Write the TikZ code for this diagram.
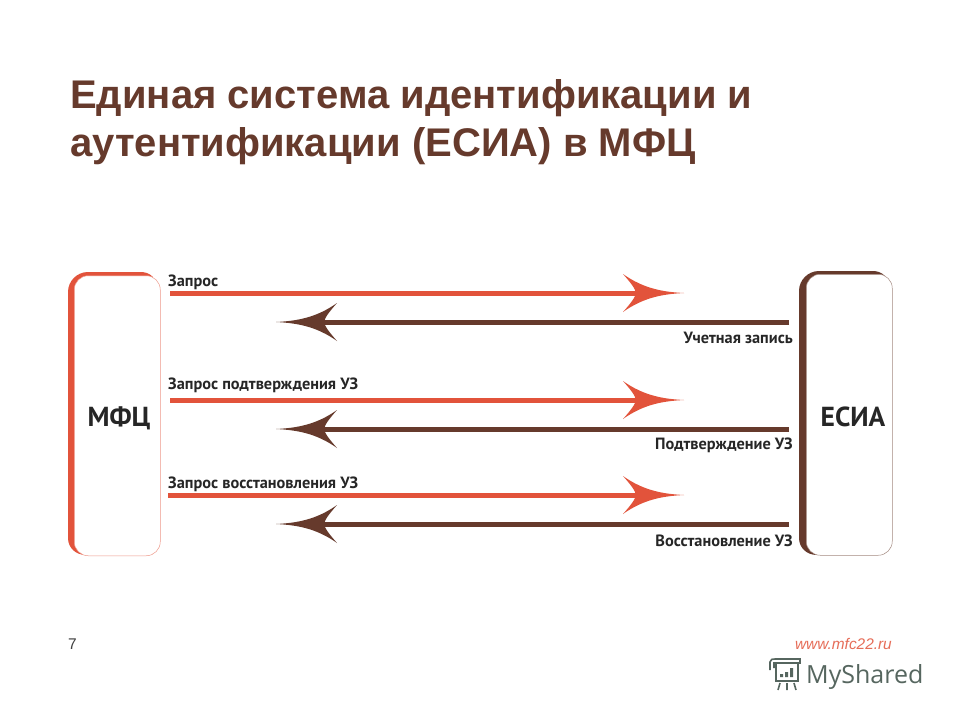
\documentclass[tikz,border=0pt]{standalone}
\usepackage{fontspec}
\setmainfont{Liberation Sans}
\newfontfamily\labelfont{PT Sans}
\newfontfamily\logofont{Open Sans}
\definecolor{mfcred}{HTML}{E2533B}
\definecolor{esiabrown}{HTML}{663A2C}
\definecolor{logogray}{HTML}{56665F}
\definecolor{labelblack}{HTML}{262626}
\pgfarrowsdeclare{sweep}{sweep}
{\pgfarrowsleftextend{-16pt}\pgfarrowsrightextend{44pt}}
{
  \pgfsetlinewidth{0pt}
  \pgfpathmoveto{\pgfpoint{44pt}{0pt}}
  \pgfpathcurveto{\pgfpoint{24pt}{1pt}}{\pgfpoint{4pt}{4pt}}{\pgfpoint{-17pt}{19pt}}
  \pgfpathcurveto{\pgfpoint{-10pt}{11pt}}{\pgfpoint{-5pt}{5pt}}{\pgfpoint{-4pt}{0pt}}
  \pgfpathcurveto{\pgfpoint{-5pt}{-5pt}}{\pgfpoint{-10pt}{-11pt}}{\pgfpoint{-17pt}{-19pt}}
  \pgfpathcurveto{\pgfpoint{4pt}{-4pt}}{\pgfpoint{24pt}{-1pt}}{\pgfpoint{44pt}{0pt}}
  \pgfpathclose
  \pgfusepathqfill
}
\begin{document}
\begin{tikzpicture}[x=1pt,y=-1pt]
       \tikzstyle{titlenode}=[anchor=base west, inner sep=0pt, text=esiabrown, font=\fontsize{40}{40}\selectfont\bfseries]
       \tikzstyle{boxnode}=[draw=#1!60, line width=0.5pt, fill=white, rounded corners=14pt, inner sep=0pt, anchor=north west]
       \tikzstyle{boxname}=[inner sep=0pt, anchor=base, text=labelblack, font=\labelfont\fontsize{27.5}{28}\selectfont\bfseries]
       \tikzstyle{msgleft}=[inner sep=0pt, anchor=base west, text=labelblack, font=\labelfont\fontsize{16.3}{17}\selectfont\bfseries]
       \tikzstyle{msgright}=[inner sep=0pt, anchor=base east, text=labelblack, font=\labelfont\fontsize{16.3}{17}\selectfont\bfseries]
       \tikzstyle{footnode}=[inner sep=0pt, font=\fontsize{15.5}{16}\selectfont]
       \tikzstyle{reqline}=[color=mfcred, line width=5pt, -sweep]
       \tikzstyle{ansline}=[color=esiabrown, line width=5pt, -sweep]
       \tikzstyle{logoline}=[draw=logogray, line width=1.6pt]
       \useasboundingbox (0,0) rectangle (960,720);
       \fill[white] (0,0) rectangle (960,720);
       % title
       \node[titlenode] (titleone) at (70,108) {Единая система идентификации и};
       \node[titlenode] (titletwo) at (70,156.5) {аутентификации (ЕСИА) в МФЦ};
       % left box
       \fill[mfcred] (153,277) .. controls (149,273) and (145,272) .. (140,272) -- (88,272)
        .. controls (77,272) and (68,281) .. (68,292) -- (68,538)
        .. controls (68,548) and (76,555) .. (86,555) -- cycle;
       \node[boxnode=mfcred, minimum width=86pt, minimum height=280pt] (mfc) at (74,275.5) {};
       \node[boxname] (mfcname) at (119,426) {МФЦ};
       % right box
       \fill[esiabrown] (885,276) .. controls (881,272) and (877,271) .. (872,271) -- (819,271)
        .. controls (808,271) and (799,280) .. (799,291) -- (799,538)
        .. controls (799,548) and (807,555) .. (817,555) -- cycle;
       \node[boxnode=esiabrown, minimum width=86pt, minimum height=281pt] (esia) at (806,274) {};
       \node[boxname] (esianame) at (853,426) {ЕСИА};
       % arrow ends
       \coordinate (reqastart) at (170,293);
       \coordinate (reqaend) at (684,293);
       \coordinate (ansastart) at (789,322);
       \coordinate (ansaend) at (276,322);
       \coordinate (reqbstart) at (170,400);
       \coordinate (reqbend) at (684,400);
       \coordinate (ansbstart) at (789,429);
       \coordinate (ansbend) at (276,429);
       \coordinate (reqcstart) at (168,495);
       \coordinate (reqcend) at (684,495);
       \coordinate (anscstart) at (789,524);
       \coordinate (anscend) at (276,524);
       \draw[reqline] (reqastart) -- (reqaend);
       \draw[ansline] (ansastart) -- (ansaend);
       \draw[reqline] (reqbstart) -- (reqbend);
       \draw[ansline] (ansbstart) -- (ansbend);
       \draw[reqline] (reqcstart) -- (reqcend);
       \draw[ansline] (anscstart) -- (anscend);
       % arrow labels
       \node[msgleft] (reqatext) at (168,286) {Запрос};
       \node[msgright] (ansatext) at (793,343) {Учетная запись};
       \node[msgleft] (reqbtext) at (168,389) {Запрос подтверждения УЗ};
       \node[msgright] (ansbtext) at (793,449) {Подтверждение УЗ};
       \node[msgleft] (reqctext) at (168,488) {Запрос восстановления УЗ};
       \node[msgright] (ansctext) at (793,546) {Восстановление УЗ};
       % footer
       \node[footnode, anchor=base west, text=black!75] (pagenum) at (68,649) {7};
       \node[footnode, anchor=base east, text=mfcred!85!white, font=\fontsize{15.4}{16}\selectfont\itshape] (website) at (892,649) {www.mfc22.ru};
       % logo
       \draw[logoline] (770,670) -- (770,662) .. controls (770,659) and (773,659) .. (775,659) -- (800,659) -- (800,663) -- (774,663) -- (774,668);
       \draw[logoline] (776,663) -- (776,681) -- (798,681) -- (798,663);
       \fill[logogray] (780,674) rectangle (783,677) (785,672) rectangle (788,677) (790,668) rectangle (793,677);
       \draw[logoline] (780,683) -- (778,690) (787,683) -- (787,690) (794,683) -- (796,690);
       \node[inner sep=0pt, anchor=base west, text=logogray, font=\logofont\fontsize{25}{25}\selectfont] (logotext) at (806,683) {MyShared};
      \end{tikzpicture}
\end{document}
